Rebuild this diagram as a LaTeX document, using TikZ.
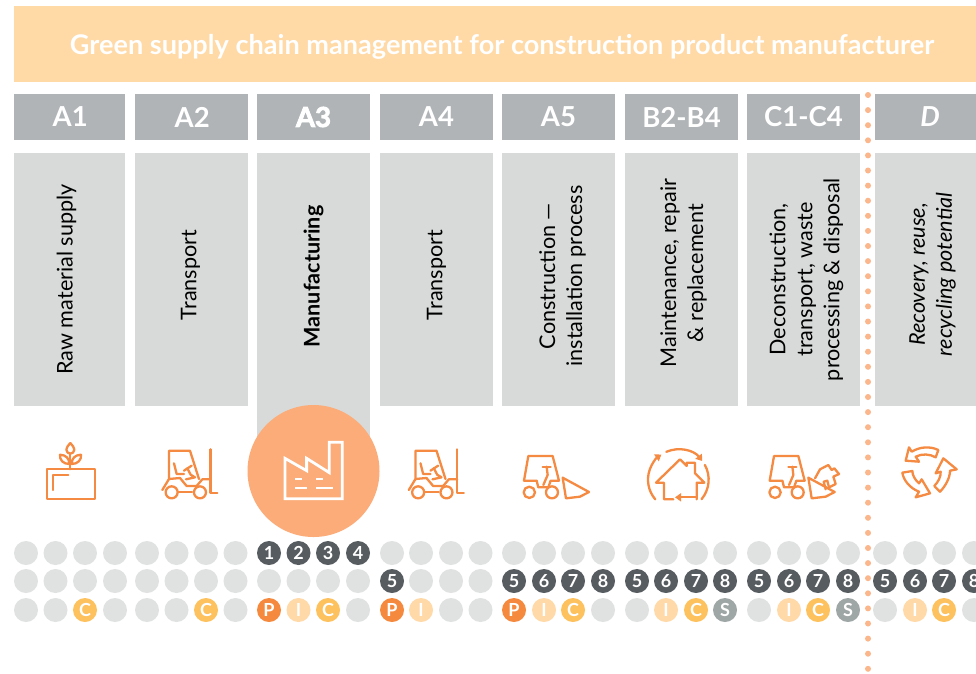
\documentclass[tikz,border=0pt]{standalone}
\usepackage{fontspec}
\setmainfont{Lato}
\newfontfamily\fakeb{Lato}[FakeBold=3]
\usetikzlibrary{arrows.meta}
\definecolor{band}{HTML}{FFD9A6}
\definecolor{hdrc}{HTML}{B0B4B6}
\definecolor{bodyc}{HTML}{D8DADA}
\definecolor{ico}{HTML}{F58A42}
\definecolor{bigc}{HTML}{FBAC79}
\definecolor{sep}{HTML}{FBB68B}
\definecolor{cge}{HTML}{E0E2E1}
\definecolor{cda}{HTML}{565C5F}
\definecolor{cor}{HTML}{F58A3E}
\definecolor{cpe}{HTML}{FFD9A8}
\definecolor{cye}{HTML}{FDC15E}
\definecolor{cgr}{HTML}{9FA6A6}
\tikzset{
  hdrbox/.style={fill=hdrc,text=white,font=\fontsize{27.5}{29}\selectfont\bfseries,minimum height=46pt,inner sep=0pt,anchor=center},
  bodybox/.style={fill=bodyc,minimum height=253pt,inner sep=0pt},
  vtext/.style={rotate=90,align=center,font=\fontsize{21.6}{27}\selectfont,text=black,inner sep=0pt},
  icon/.style={draw=ico,line width=2.3pt,line cap=round,line join=round},
  dotn/.style={circle,minimum size=24pt,inner sep=0pt,text=white,font=\fontsize{18}{18}\selectfont\bfseries},
  ge/.style={dotn,fill=cge}, da/.style={dotn,fill=cda}, or/.style={dotn,fill=cor},
  pe/.style={dotn,fill=cpe}, ye/.style={dotn,fill=cye}, gr/.style={dotn,fill=cgr},
  zm/.style={x=0.3333pt,y=-0.3333pt},
}
\newcommand\forkliftpaths{%
  \draw[icon] (507,235)--(507,152)--(570,152)--(597,237);
  \draw[icon] (487,270)--(507,237)--(540,234)--(560,258)--(590,258)--(607,238)--(632,238);
  \draw[icon] (632,148)--(632,278)--(652,278);
  \draw[icon] (515,277) circle[radius=18];
  \draw[icon] (600,277) circle[radius=18];
  \draw[icon] (536,277)--(576,277);
  \draw[icon] (522,190)--(530,222)--(552,222);
  \draw[icon] (552,212)--(575,197);
  \draw[icon] (562,205)--(572,224)--(585,232)--(558,238);
}
\newcommand\loaderpaths{%
  \draw[icon] (432,152)--(445,78)--(518,78)--(537,152)--(512,152)--(505,172)--(475,172)--(470,152)--cycle;
  \draw[icon] (488,110)--(512,110);
  \draw[icon] (500,110)--(503,135)--(490,165);
  \draw[icon] (448,187) circle[radius=17];
  \draw[icon] (516,187) circle[radius=18];
  \draw[icon] (548,143)--(558,205)--(600,200)--(627,186)--cycle;
}
\begin{document}
\begin{tikzpicture}[x=1pt,y=-1pt]
\useasboundingbox (0,0) rectangle (976,673);
\fill[white] (0,0) rectangle (976,673);
% title band
\fill[band] (14,6) rectangle (976,82);
\node[text=white,font=\fontsize{27.1}{30}\selectfont\bfseries,inner sep=0pt] (title) at (502,47) {Green supply chain management for construction product manufacturer};
% headers
\node[hdrbox,minimum width=111pt] (h1) at (69.5,117) {\hspace{1.5pt}A1};
\node[hdrbox,minimum width=113pt] (h2) at (191.5,117) {\hspace{1.5pt}A2};
\node[hdrbox,minimum width=113pt] (h3) at (313.5,117) {\fakeb A3};
\node[hdrbox,minimum width=113pt] (h4) at (436.5,117) {A4};
\node[hdrbox,minimum width=113pt] (h5) at (558.5,117) {A5};
\node[hdrbox,minimum width=113pt] (h6) at (681.5,117) {B2-B4};
\node[hdrbox,minimum width=113pt] (h7) at (803.5,117) {C1-C4};
\node[hdrbox,minimum width=110pt,font=\fontsize{27.5}{29}\selectfont\bfseries\itshape] (h8) at (930,117) {D};
% bodies
\node[bodybox,minimum width=111pt] (b1) at (69.5,279.5) {};
\node[bodybox,minimum width=113pt] (b2) at (191.5,279.5) {};
\node[bodybox,minimum width=113pt,minimum height=292pt] (b3) at (313.5,299) {};
\node[bodybox,minimum width=113pt] (b4) at (436.5,279.5) {};
\node[bodybox,minimum width=113pt] (b5) at (558.5,279.5) {};
\node[bodybox,minimum width=113pt] (b6) at (681.5,279.5) {};
\node[bodybox,minimum width=113pt] (b7) at (803.5,279.5) {};
\node[bodybox,minimum width=101pt] (b8) at (925.5,279.5) {};
% vertical texts
\node[vtext] (t1) at (66.5,279.5) {Raw material supply};
\node[vtext] (t2) at (190.5,275) {Transport};
\node[vtext,font=\fontsize{21.6}{27}\selectfont\bfseries] (t3) at (313.5,276.5) {Manufacturing};
\node[vtext] (t4) at (436.5,275) {Transport};
\node[vtext] (t5) at (562.5,276) {Construction ---\\installation process};
\node[vtext] (t6) at (683.5,273) {Maintenance, repair\\\& replacement};
\node[vtext] (t7) at (806.5,279.5) {Deconstruction,\\transport, waste\\processing \& disposal};
\node[vtext,font=\fontsize{21.6}{27}\selectfont\itshape] (t8) at (932.5,274.5) {Recovery, reuse,\\recycling potential};
% separator
\coordinate (septop) at (868,95);
\coordinate (sepbot) at (868,669);
\draw[sep,line width=6pt,line cap=round,dash pattern=on 0pt off 15.1pt] (septop) -- (sepbot);
% big circle
\node[circle,fill=bigc,minimum size=132pt,inner sep=0pt] (big) at (313.5,471) {};
% plant
\begin{scope}[shift={(0,400)},zm]
  \draw[icon] (140,208) rectangle (284,296);
  \draw[icon] (158,270)--(158,226)--(205,226);
  \draw[icon] (211,208)--(211,160);
  \draw[icon] (211,129) .. controls (204,138) and (199,142) .. (199,149) .. controls (199,156) and (205,161) .. (211,161) .. controls (217,161) and (223,156) .. (223,149) .. controls (223,142) and (218,138) .. (211,129);
  \draw[icon] (180,164) .. controls (178,180) and (190,192) .. (208,192) .. controls (208,175) and (198,165) .. (180,164);
  \draw[icon] (243,164) .. controls (245,180) and (233,192) .. (215,192) .. controls (215,175) and (225,165) .. (243,164);
\end{scope}
% forklifts
\begin{scope}[shift={(0,400)},zm]\forkliftpaths\end{scope}
\begin{scope}[shift={(246.5,400)},zm]\forkliftpaths\end{scope}
% factory
\begin{scope}[shift={(0,400)},zm]
  \draw[draw=white,line width=2.8pt,line join=miter] (855,296)--(855,175)--(920,212)--(920,175)--(988,218)--(988,127)--(1027,127)--(1027,296)--cycle;
  \draw[white,line width=2.2pt] (885,238)--(905,238) (948,238)--(970,238) (885,265)--(920,265) (948,265)--(1000,265);
\end{scope}
% loaders
\begin{scope}[shift={(380,430)},zm]\loaderpaths\end{scope}
\begin{scope}[shift={(625.7,430)},zm]\loaderpaths\end{scope}
% tilted house on the bucket
\begin{scope}[shift={(765,450)},zm]
  \draw[icon] (150,85)--(165,58)--(190,45)--(200,60)--(208,55)--(222,72)--(205,80)--(212,102)--(192,112)--(187,92)--(176,95)--(182,118);
\end{scope}
% house with arrows
\begin{scope}[shift={(640,440)},zm]
  \draw[icon] (100,178)--(72,178)--(72,128)--(48,128)--(120,58)--(140,78)--(140,68)--(165,68)--(165,100)--(193,128)--(170,128)--(170,178);
  \draw[icon,-{Triangle[length=6pt,width=8pt]}] (170,172)--(105,172);
  \draw[icon,-{Triangle[length=6pt,width=8pt]}] ([shift={(139.6:91)}]115,119) arc[start angle=139.6,end angle=236,radius=91];
  \draw[icon,-{Triangle[length=6pt,width=8pt]}] ([shift={(246.6:91)}]115,119) arc[start angle=246.6,end angle=322,radius=91];
  \draw[icon] ([shift={(331:91)}]115,119) arc[start angle=331,end angle=400,radius=91];
\end{scope}
% recycling
\begin{scope}[shift={(895,440)},zm]
  \draw[icon] (50,35)--(42,22)--(32,62)--(72,65)--(62,50) .. controls (82,40) and (105,42) .. (122,52)--(130,30) .. controls (105,18) and (75,20) .. (50,35);
  \draw[icon] (145,55)--(185,88)--(165,92) .. controls (165,115) and (150,140) .. (135,155)--(118,138) .. controls (130,125) and (138,110) .. (137,95)--(122,100)--cycle;
  \draw[icon] (22,98)--(52,93) .. controls (52,105) and (60,120) .. (72,130)--(80,118)--(105,160)--(62,172)--(72,155) .. controls (45,145) and (25,120) .. (22,98);
\end{scope}
% dots
\foreach \x/\s/\t [count=\i] in {26/ge/,55.5/ge/,85/ge/,115/ge/,147/ge/,176.5/ge/,206/ge/,235.5/ge/,269/da/1,298.5/da/2,328/da/3,358/da/4,392/ge/,421/ge/,451/ge/,480.5/ge/,514/ge/,544/ge/,573/ge/,603/ge/,637/ge/,666/ge/,696/ge/,725/ge/,759/ge/,789/ge/,818/ge/,848/ge/,885/ge/,915/ge/,944/ge/,974/ge/}
  \node[\s] (ra\i) at (\x,553) {\t};
\foreach \x/\s/\t [count=\i] in {26/ge/,55.5/ge/,85/ge/,115/ge/,147/ge/,176.5/ge/,206/ge/,235.5/ge/,269/ge/,298.5/ge/,328/ge/,358/ge/,392/da/5,421/ge/,451/ge/,480.5/ge/,514/da/5,544/da/6,573/da/7,603/da/8,637/da/5,666/da/6,696/da/7,725/da/8,759/da/5,789/da/6,818/da/7,848/da/8,885/da/5,915/da/6,944/da/7,974/da/8}
  \node[\s] (rb\i) at (\x,581) {\t};
\foreach \x/\s/\t [count=\i] in {26/ge/,55.5/ge/,85/ye/C,115/ge/,147/ge/,176.5/ge/,206/ye/C,235.5/ge/,269/or/P,298.5/pe/I,328/ye/C,358/ge/,392/or/P,421/pe/I,451/ge/,480.5/ge/,514/or/P,544/pe/I,573/ye/C,603/ge/,637/ge/,666/pe/I,696/ye/C,725/gr/S,759/ge/,789/pe/I,818/ye/C,848/gr/S,885/ge/,915/pe/I,944/ye/C,974/ge/}
  \node[\s] (rc\i) at (\x,610) {\t};
\end{tikzpicture}
\end{document}
